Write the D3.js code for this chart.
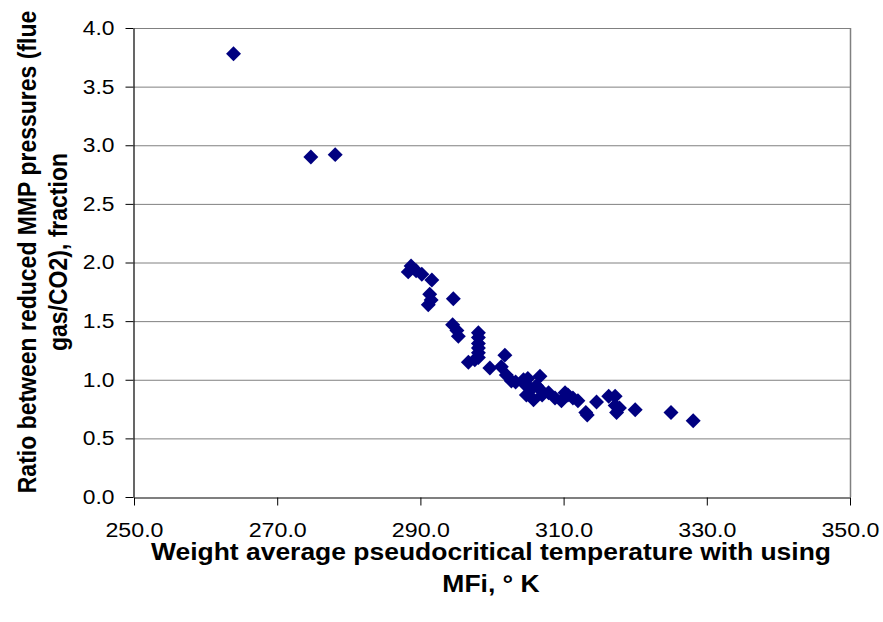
<!DOCTYPE html>
<html>
<head>
<meta charset="utf-8">
<script src="https://cdn.jsdelivr.net/npm/d3@7"></script>
<style>
  html, body { margin: 0; padding: 0; background: #fff; }
  svg { display: block; }
  text { font-family: "Liberation Sans", Arial, sans-serif; fill: #000; }
</style>
</head>
<body>
<svg id="chart" width="883" height="622"></svg>
<script>
// Data
const temperature = [263.9, 274.7, 278.1, 288.7, 288.3, 289.4, 290.2, 291.6, 291.3, 291.5, 291.1,
  294.6, 294.5, 295.1, 295.3, 298.1, 298.1, 298.1, 298.1, 298.1, 298.1, 296.7, 297.6, 301.8,
  299.7, 301.3, 302.0, 302.7, 303.3, 304.4, 304.6, 305.0, 306.7, 304.8, 305.5, 305.8, 306.2,
  306.7, 307.0, 307.9, 308.8, 309.7, 310.2, 310.6, 311.3, 312.0, 313.1, 313.3, 314.6, 316.3,
  317.2, 317.2, 317.4, 317.8, 320.0, 325.0, 328.1];
const ratio = [3.78, 2.90, 2.92, 1.97, 1.92, 1.93, 1.90, 1.85, 1.73, 1.68, 1.64,
  1.69, 1.47, 1.42, 1.37, 1.40, 1.36, 1.31, 1.27, 1.23, 1.19, 1.15, 1.17, 1.21,
  1.10, 1.11, 1.04, 0.99, 0.98, 1.00, 0.96, 1.01, 1.03, 0.87, 0.92, 0.83, 0.95,
  0.92, 0.87, 0.89, 0.845, 0.82, 0.89, 0.87, 0.845, 0.82, 0.72, 0.70, 0.81, 0.86,
  0.86, 0.78, 0.72, 0.76, 0.745, 0.72, 0.65];
const xTicks = [250, 270, 290, 310, 330, 350];
const yTicks = [0, 0.5, 1.0, 1.5, 2.0, 2.5, 3.0, 3.5, 4.0];
const xTitleLines = ["Weight average pseudocritical temperature with using", "MFi, \u00B0 K"];
const yTitleLines = ["Ratio between reduced MMP pressures (flue", "gas/CO2), fraction"];

const points = temperature.map((t, i) => ({ x: t, y: ratio[i] }));

const svg = d3.select("#chart");
const plotL = 134, plotR = 850, plotT = 28, plotB = 497;

const x = d3.scaleLinear().domain([250, 350]).range([plotL, plotR]);
const y = d3.scaleLinear().domain([0, 4]).range([plotB, plotT]);

// horizontally widen a text (the reference glyphs are stretched sideways)
function widen(sel, factor) {
  sel.each(function () {
    const w = this.getComputedTextLength();
    d3.select(this).attr("textLength", w * factor).attr("lengthAdjust", "spacingAndGlyphs");
  });
}

// gridlines
svg.append("g").selectAll("line")
  .data(yTicks.filter(d => d > 0))
  .join("line")
  .attr("x1", plotL).attr("x2", plotR)
  .attr("y1", d => y(d) + 0.5).attr("y2", d => y(d) + 0.5)
  .attr("stroke", "#808080").attr("stroke-width", 1);

// plot border (right)
svg.append("line")
  .attr("x1", plotR + 0.5).attr("x2", plotR + 0.5)
  .attr("y1", plotT).attr("y2", plotB)
  .attr("stroke", "#808080").attr("stroke-width", 1.5);

// axes
const xAxis = d3.axisBottom(x).tickValues(xTicks).tickFormat(d3.format(".1f"))
  .tickSizeInner(8).tickSizeOuter(0).tickPadding(17);
const yAxis = d3.axisLeft(y).tickValues(yTicks).tickFormat(d3.format(".1f"))
  .tickSizeInner(8).tickSizeOuter(0).tickPadding(11);

const gx = svg.append("g").attr("transform", `translate(0,${plotB + 0.5})`).call(xAxis);
const gy = svg.append("g").attr("transform", `translate(${plotL - 0.5},0)`).call(yAxis);
[gx, gy].forEach(g => {
  g.select(".domain").attr("stroke", "#000").attr("stroke-width", 1.2);
  g.selectAll(".tick line").attr("stroke", "#000");
  g.selectAll(".tick text").attr("font-size", 20).attr("font-family", "Liberation Sans, Arial, sans-serif");
});
widen(gx.selectAll(".tick text"), 1.16);
widen(gy.selectAll(".tick text"), 1.14);

// points
svg.append("g").selectAll("path")
  .data(points)
  .join("path")
  .attr("d", d3.symbol().type(d3.symbolSquare).size(112))
  .attr("transform", d => `translate(${x(d.x)},${y(d.y)}) rotate(45)`)
  .attr("fill", "#000080");

// x title
const xt = svg.append("g").selectAll("text")
  .data(xTitleLines)
  .join("text")
  .attr("x", (plotL + plotR) / 2 - 1)
  .attr("y", (d, i) => 560 + i * 32)
  .attr("text-anchor", "middle")
  .attr("font-size", 23)
  .attr("font-weight", "bold")
  .text(d => d);
widen(xt, 1.15);

// y title
svg.append("g").selectAll("text")
  .data(yTitleLines)
  .join("text")
  .attr("transform", (d, i) => `translate(${36 + i * 31},252) scale(1.12,1) rotate(-90)`)
  .attr("text-anchor", "middle")
  .attr("font-size", 23)
  .attr("font-weight", "bold")
  .text(d => d);
</script>
</body>
</html>
